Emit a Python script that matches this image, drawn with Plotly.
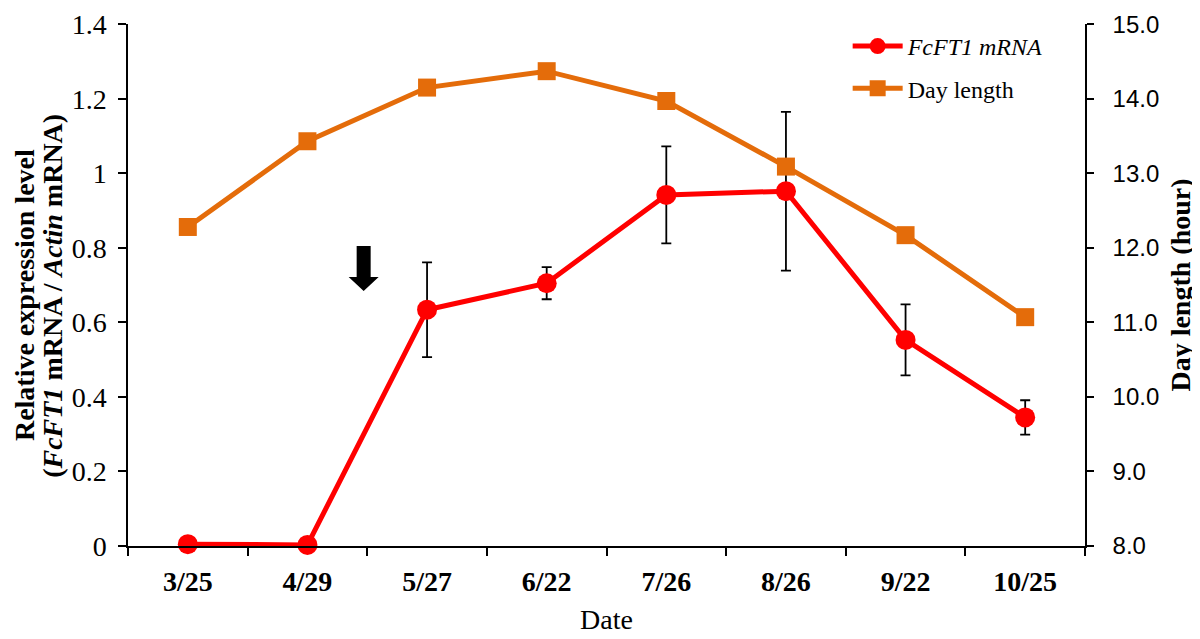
import plotly.graph_objects as go

# Sampling dates
dates = ['3/25', '4/29', '5/27', '6/22', '7/26', '8/26', '9/22', '10/25']

# FcFT1 relative expression (left axis) with standard error
expression = [0.005, 0.003, 0.634, 0.705, 0.942, 0.952, 0.553, 0.345]
expression_err = [0.0, 0.0, 0.127, 0.043, 0.13, 0.213, 0.095, 0.046]

# Day length in hours (right axis)
day_length = [12.28, 13.43, 14.15, 14.37, 13.97, 13.09, 12.17, 11.07]

serif = 'Liberation Serif'
sans = 'Liberation Sans'

fcft1_line = go.Scatter(
    x=dates, y=expression, name='<i>FcFT1 mRNA</i>', mode='lines+markers',
    legendgroup='a',
    line=dict(color='#FF0000', width=5),
    marker=dict(symbol='circle', size=20, color='#FF0000'),
    error_y=dict(type='data', array=expression_err, color='black', thickness=1.8, width=5),
    cliponaxis=False, yaxis='y')

day_line = go.Scatter(
    x=dates, y=day_length, name='Day length', mode='lines+markers',
    legendgroup='b',
    line=dict(color='#E46C0A', width=5),
    marker=dict(symbol='square', size=18, color='#E46C0A'),
    cliponaxis=False, yaxis='y2')

fig = go.Figure(data=[fcft1_line, day_line])

# the page body adds 8px, so the figure is shrunk by that much
fig.update_layout(
    width=1192, height=631,
    margin=dict(l=120, r=115, t=16, b=93, autoexpand=False),
    plot_bgcolor='white', paper_bgcolor='white',
    showlegend=True,
    legend=dict(x=0.752, y=1.0, xanchor='left', yanchor='top',
                font=dict(family=serif, size=24, color='black'),
                bgcolor='rgba(0,0,0,0)', tracegroupgap=8, itemwidth=50),
    xaxis=dict(type='category', range=[-0.5, 7.5], tickson='boundaries', automargin=False,
               showline=True, linecolor='black', linewidth=2,
               ticks='outside', ticklen=8, tickwidth=1.5, tickcolor='black',
               ticklabelstandoff=9,
               tickfont=dict(family=serif, size=28, color='black', weight='bold'),
               title=dict(text='Date', font=dict(family=serif, size=28, color='black'), standoff=14),
               showgrid=False, zeroline=False),
    yaxis=dict(range=[0, 1.4005], dtick=0.2, tickformat='~g', ticklabeloverflow='allow',
               automargin=False,
               showline=True, linecolor='black', linewidth=1.5,
               ticks='outside', ticklen=8, tickwidth=1.5, tickcolor='black',
               ticklabelstandoff=6,
               tickfont=dict(family=serif, size=28, color='black'),
               showgrid=False, zeroline=False),
    yaxis2=dict(range=[8, 15.003], dtick=1, tickformat='.1f', overlaying='y', side='right',
                ticklabeloverflow='allow', automargin=False,
                showline=True, linecolor='black', linewidth=1.5,
                ticks='outside', ticklen=7, tickwidth=1.5, tickcolor='black',
                ticklabelstandoff=14,
                tickfont=dict(family=sans, size=24, color='black'),
                title=dict(text='<b>Day length (hour)</b>',
                           font=dict(family=serif, size=28, color='black'), standoff=12),
                showgrid=False, zeroline=False),
)

# Left axis title as two rotated lines (tighter line spacing than a multi-line axis title)
title_font = dict(family=serif, size=28, color='black')
fig.add_annotation(text='<b>Relative expression level</b>', xref='paper', yref='paper',
                   x=-0.108, y=0.48, textangle=-90, showarrow=False,
                   xanchor='center', yanchor='middle', font=title_font)
fig.add_annotation(text='<b>(<i>FcFT1</i> mRNA / <i>Actin</i> mRNA)</b>', xref='paper', yref='paper',
                   x=-0.079, y=0.48, textangle=-90, showarrow=False,
                   xanchor='center', yanchor='middle', font=title_font)

# Downward block arrow between 4/29 and 5/27, drawn in pixels around its tip
fig.add_shape(type='path', xref='x', yref='y', xsizemode='pixel', ysizemode='pixel',
              xanchor=1.47, yanchor=0.684,
              path='M 0 0 L 15 14 L 7 14 L 7 45 L -7 45 L -7 14 L -15 14 Z',
              fillcolor='black', line=dict(width=0))

fig.write_html('out.html')
